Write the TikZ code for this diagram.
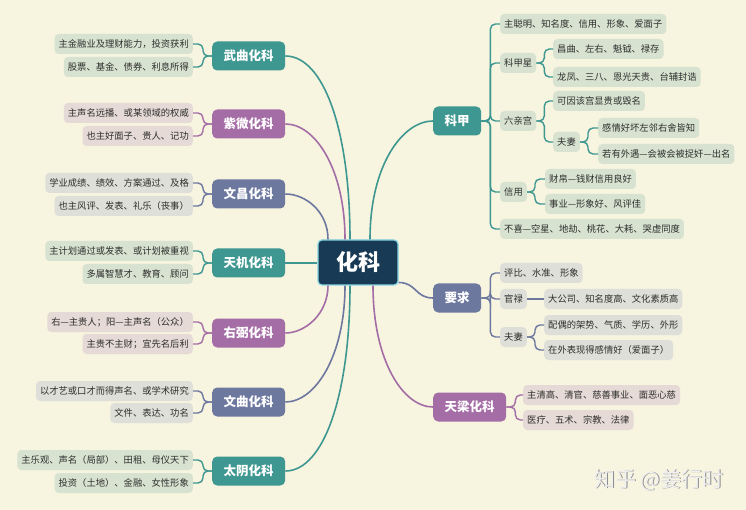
\documentclass[tikz,border=0pt]{standalone}
\usepackage{fontspec}
\newfontfamily\cjk{Noto Sans CJK SC}
\definecolor{bg}{HTML}{F7F4E0}
\definecolor{cTeal}{HTML}{3E9790}
\definecolor{cPurp}{HTML}{A56DA6}
\definecolor{cSlate}{HTML}{6D789F}
\definecolor{cCenter}{HTML}{183A54}
\definecolor{cBorder}{HTML}{86D3E3}
\definecolor{lTeal}{HTML}{D7E3D0}
\definecolor{lPurp}{HTML}{E5DAD5}
\definecolor{lSlate}{HTML}{DEDFD8}
\definecolor{txt}{HTML}{2E2E2E}
\tikzset{
  mainbox/.style={rounded corners=5pt, text=white, font=\cjk\bfseries\fontsize{12.5}{14}\selectfont, minimum height=29pt, inner xsep=11.5pt, inner ysep=0pt},
  leaf/.style={rounded corners=4pt, text=txt, font=\cjk\fontsize{9.3}{11}\selectfont, minimum height=20pt, inner xsep=4pt, inner ysep=0pt},
  lt/.style={leaf, fill=lTeal},
  lp/.style={leaf, fill=lPurp},
  ls/.style={leaf, fill=lSlate},
  conn/.style={line width=1.6pt},
  brk/.style={line width=1.4pt, rounded corners=5pt}
}
\begin{document}
\begin{tikzpicture}[x=1pt,y=-1pt]
\fill[bg] (0,0) rectangle (746,510);
\useasboundingbox (0,0) rectangle (746,510);

% centre
\node[fill=cCenter, draw=cBorder, line width=1.2pt, rounded corners=4pt, minimum width=80pt, minimum height=45pt, text=white, font=\cjk\bfseries\fontsize{22}{24}\selectfont] (c) at (358,262.5) {化科};

% left main nodes
\node[mainbox, fill=cTeal, anchor=west] (wu) at (212,56) {武曲化科};
\node[mainbox, fill=cPurp, anchor=west] (zw) at (212,124) {紫微化科};
\node[mainbox, fill=cSlate, anchor=west] (wc) at (212,194) {文昌化科};
\node[mainbox, fill=cTeal, anchor=west] (tj) at (212,263) {天机化科};
\node[mainbox, fill=cPurp, anchor=west] (yb) at (212,333) {右弼化科};
\node[mainbox, fill=cSlate, anchor=west] (wq) at (212,402) {文曲化科};
\node[mainbox, fill=cTeal, anchor=west] (ty) at (212,471) {太阴化科};

% left leaves
\node[lt, anchor=east] (wu1) at (193,44) {主金融业及理财能力，投资获利};
\node[lt, anchor=east] (wu2) at (193,67) {股票、基金、债券、利息所得};
\node[lp, anchor=east] (zw1) at (193,113) {主声名远播、或某领域的权威};
\node[lp, anchor=east] (zw2) at (193,136) {也主好面子、贵人、记功};
\node[ls, anchor=east] (wc1) at (193,183) {学业成绩、绩效、方案通过、及格};
\node[ls, anchor=east] (wc2) at (193,206) {也主风评、发表、礼乐（丧事）};
\node[lt, anchor=east] (tj1) at (193,251) {主计划通过或发表、或计划被重视};
\node[lt, anchor=east] (tj2) at (193,274) {多属智慧才、教育、顾问};
\node[lp, anchor=east] (yb1) at (193,322) {右—主贵人；阳—主声名（公众）};
\node[lp, anchor=east] (yb2) at (193,344) {主贵不主财；宜先名后利};
\node[ls, anchor=east] (wq1) at (193,391) {以才艺或口才而得声名、或学术研究};
\node[ls, anchor=east] (wq2) at (193,413) {文件、表达、功名};
\node[lt, anchor=east] (ty1) at (193,460) {主乐观、声名（局部）、田租、母仪天下};
\node[lt, anchor=east] (ty2) at (193,483) {投资（土地）、金融、女性形象};

% right main nodes
\node[mainbox, fill=cTeal, anchor=west] (kj) at (433,121) {科甲};
\node[mainbox, fill=cSlate, anchor=west] (yq) at (433,298) {要求};
\node[mainbox, fill=cPurp, anchor=west] (tl) at (433,407) {天梁化科};

% 科甲 children
\node[lt, anchor=west] (kj1) at (500,24) {主聪明、知名度、信用、形象、爱面子};
\node[lt, anchor=west] (kjx) at (500,63) {科甲星};
\node[lt, anchor=west] (kjx1) at (553,49) {昌曲、左右、魁钺、禄存};
\node[lt, anchor=west] (kjx2) at (553,77) {龙凤、三八、恩光天贵、台辅封诰};
\node[lt, anchor=west] (lq) at (500,121) {六亲宫};
\node[lt, anchor=west] (lq1) at (553,101) {可因该宫显贵或毁名};
\node[lt, anchor=west] (fq) at (553,142) {夫妻};
\node[lt, anchor=west] (fq1) at (598,128) {感情好坏左邻右舍皆知};
\node[lt, anchor=west] (fq2) at (598,154) {若有外遇—会被会被捉奸—出名};
\node[lt, anchor=west] (xy) at (500,192) {信用};
\node[lt, anchor=west] (xy1) at (545,179) {财帛—钱财信用良好};
\node[lt, anchor=west] (xy2) at (545,204) {事业—形象好、风评佳};
\node[lt, anchor=west] (bx) at (500,229) {不喜—空星、地劫、桃花、大耗、哭虚同度};

% 要求 children
\node[ls, anchor=west] (yq1) at (500,273) {评比、水准、形象};
\node[ls, anchor=west] (gl) at (500,299) {官禄};
\node[ls, anchor=west] (gl1) at (544,299) {大公司、知名度高、文化素质高};
\node[ls, anchor=west] (yf) at (500,337) {夫妻};
\node[ls, anchor=west] (yf1) at (544,325) {配偶的架势、气质、学历、外形};
\node[ls, anchor=west] (yf2) at (544,350) {在外表现得感情好（爱面子）};

% 天梁 children
\node[lp, anchor=west] (tl1) at (523,395) {主清高、清官、慈善事业、面恶心慈};
\node[lp, anchor=west] (tl2) at (523,420) {医疗、五术、宗教、法律};

% centre connectors
\draw[conn, cTeal] ([xshift=-8pt]c.north) .. controls +(0,-110) and +(38,0) .. (wu.east);
\draw[conn, cPurp] ([xshift=-13pt]c.north) .. controls +(0,-70) and +(30,0) .. (zw.east);
\draw[conn, cSlate] ([xshift=-30pt]c.north) .. controls +(0,-28) and +(20,0) .. (wc.east);
\draw[conn, cTeal] (c.west |- tj.east) -- (tj.east);
\draw[conn, cPurp] ([xshift=-30pt]c.south) .. controls +(0,28) and +(20,0) .. (yb.east);
\draw[conn, cSlate] ([xshift=-13pt]c.south) .. controls +(0,70) and +(30,0) .. (wq.east);
\draw[conn, cTeal] ([xshift=-8pt]c.south) .. controls +(0,110) and +(38,0) .. (ty.east);
\draw[conn, cTeal] ([xshift=12pt]c.north) .. controls +(0,-75) and +(-30,0) .. (kj.west);
\draw[conn, cSlate] ([yshift=-20pt]c.east) .. controls +(18,0) and +(-18,0) .. (yq.west);
\draw[conn, cPurp] ([xshift=15pt]c.south) .. controls +(0,75) and +(-30,0) .. (tl.west);

% left brackets
\foreach \p/\col in {wu/cTeal, zw/cPurp, wc/cSlate, tj/cTeal, yb/cPurp, wq/cSlate, ty/cTeal}{
  \draw[brk, \col] (\p.west) -- ++(-9,0) |- (\p1.east);
  \draw[brk, \col] (\p.west) -- ++(-9,0) |- (\p2.east);
}

% right brackets
\foreach \q in {kj1, kjx, lq, xy, bx}{
  \draw[brk, cTeal] (kj.east) -- ++(9,0) |- (\q.west);
}
\foreach \q in {kjx1, kjx2}{\draw[brk, cTeal] (kjx.east) -- ++(8,0) |- (\q.west);}
\foreach \q in {lq1, fq}{\draw[brk, cTeal] (lq.east) -- ++(8,0) |- (\q.west);}
\foreach \q in {fq1, fq2}{\draw[brk, cTeal] (fq.east) -- ++(8,0) |- (\q.west);}
\foreach \q in {xy1, xy2}{\draw[brk, cTeal] (xy.east) -- ++(8,0) |- (\q.west);}

\foreach \q in {yq1, gl, yf}{\draw[brk, cSlate] (yq.east) -- ++(9,0) |- (\q.west);}
\draw[brk, cSlate] (gl.east) -- (gl1.west);
\foreach \q in {yf1, yf2}{\draw[brk, cSlate] (yf.east) -- ++(8,0) |- (\q.west);}

\foreach \q in {tl1, tl2}{\draw[brk, cPurp] (tl.east) -- ++(9,0) |- (\q.west);}

% watermark
\node[text=black!45, font=\cjk\fontsize{21}{24}\selectfont] (wm0) at (659.8,480.8) {知乎 @姜行时};
\node[text=white!94!black, font=\cjk\fontsize{21}{24}\selectfont] (wm) at (659,480) {知乎 @姜行时};
\end{tikzpicture}
\end{document}
